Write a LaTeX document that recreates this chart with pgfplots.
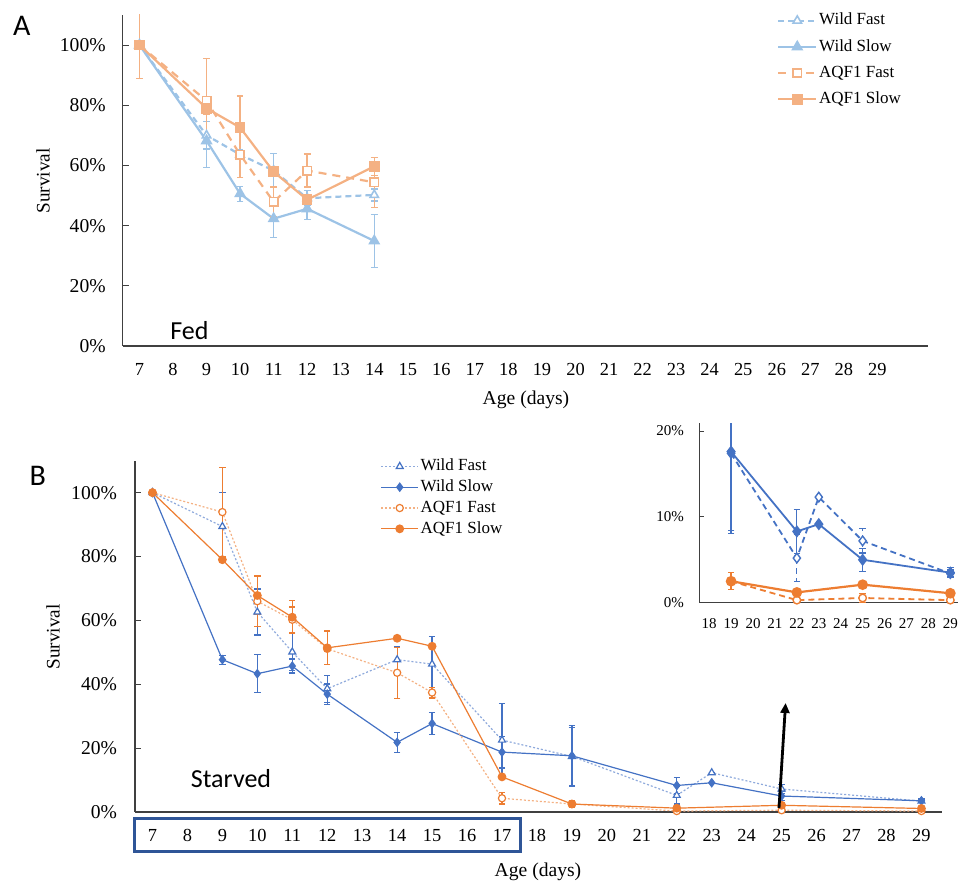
\documentclass[border=0pt]{standalone}
\usepackage{fontspec}
\setmainfont{Liberation Serif}
\newfontfamily\calibri{Carlito}
\usepackage{pgfplots}
\usepackage{pgfplotstable}
\pgfplotsset{compat=1.18}
\usetikzlibrary{arrows.meta}

\definecolor{wildA}{HTML}{9DC3E6}
\definecolor{aqfA}{HTML}{F4B183}
\definecolor{wildB}{HTML}{4472C4}
\definecolor{wildBl}{HTML}{8FAADC}
\definecolor{aqfB}{HTML}{ED7D31}
\definecolor{aqfBl}{HTML}{F4B183}
\definecolor{boxblue}{HTML}{2F5597}
\definecolor{axcol}{HTML}{404040}

% ---------- Panel A (fed) ----------
\pgfplotstableread{
x y e
7 100 0
9 70 4.6
10 63.6 1.5
11 58.3 5.7
12 49.1 2.5
14 50.2 2
}\WFA
\pgfplotstableread{
x y e
7 100 0
9 68.2 8.8
10 50.6 2.5
11 42.3 6.2
12 45.6 3.5
14 34.9 8.8
}\WSA
\pgfplotstableread{
x y e
7 100 0
9 81.5 14
10 63.6 7.6
11 47.9 5
12 58.3 5.5
14 54.4 8.3
}\AFA
\pgfplotstableread{
x y e
7 100 11.1
9 79 2
10 72.6 10.5
11 57.9 1.5
12 48.6 1.5
14 59.7 3
}\ASA

% ---------- Panel B (starved) ----------
\pgfplotstableread{
x y e
7 100 0
9 89.4 10.7
10 62.6 7.2
11 50.1 5.8
12 38.6 4.2
14 47.7 4
15 46.3 8.7
17 22.5 11.5
19 17.4 9
22 5.2 2.7
23 12.3 0
25 7.2 1.4
29 3.4 0.4
}\WFB
\pgfplotstableread{
x y e
7 100 0
9 47.7 1.4
10 43.3 6
11 45.7 2.2
12 36.9 3.2
14 21.8 3.2
15 27.7 3.4
17 18.75 5
19 17.6 9.5
22 8.3 2.6
23 9.15 0
25 5.0 1.35
29 3.5 0.6
}\WSB
\pgfplotstableread{
x y e
7 100 0
9 93.9 14
10 66 8
11 60.2 4
12 51.1 0
14 43.6 8
15 37.4 1.7
17 4.3 1.8
19 2.5 0
22 0.3 0
25 0.55 0.5
29 0.3 0
}\AFB
\pgfplotstableread{
x y e
7 100 0
9 79 0
10 67.8 6
11 61 5.2
12 51.4 5.3
14 54.4 0
15 51.9 0
17 11 0
19 2.5 1.0
22 1.2 0
25 2.1 0
29 1.1 0
}\ASB

\pgfplotsset{
  base/.style={
    scale only axis,
    axis lines=left,
    axis line style={draw=axcol, line width=0.6pt, -},
    tick align=inside,
    xtick style={draw=none},
    ytick style={draw=axcol, line width=0.5pt},
    major tick length=3pt,
    /pgf/number format/assume math mode=true,
    clip=true,
    error bars/y dir=both,
    error bars/y explicit,
  },
}

\begin{document}
\begin{tikzpicture}[x=1pt,y=1pt]
\useasboundingbox (0,0) rectangle (479,441);

% ================= Panel A =================
\begin{axis}[base,
  at={(61.35pt,268pt)}, anchor=south west,
  width=402.5pt, height=165.5pt,
  xmin=6.5, xmax=30.5, ymin=0, ymax=110,
  xtick={7,...,29},
  ytick={0,20,40,60,80,100},
  yticklabels={0\%,20\%,40\%,60\%,80\%,100\%},
  xticklabel style={font=\fontsize{9.2}{10}\selectfont, yshift=-5.2pt},
  yticklabel style={font=\fontsize{9.8}{11}\selectfont, xshift=-5pt},
  error bars/error mark options={rotate=90, mark size=1.7pt, line width=0.7pt},
  legend image code/.code={\draw[mark repeat=2,mark phase=2,#1] plot coordinates {(0pt,0pt) (9.5pt,0pt) (19pt,0pt)};},
  legend style={at={(0.8125,1.014)}, anchor=north west, draw=none, fill=none,
    font=\fontsize{8.5}{10}\selectfont, row sep=3.2pt, inner sep=0pt,
    nodes={inner sep=0.9pt, text height=6.2pt, text depth=1.9pt}},
  legend cell align=left,
]
\addplot[color=wildA, line width=1.1pt, dash pattern=on 3pt off 2pt,
  mark=triangle*, mark size=2.4pt, mark options={solid, fill=white, draw=wildA, line width=0.8pt},
  error bars/error bar style={solid, line width=0.7pt, wildA}]
  table[x=x,y=y,y error=e]{\WFA};
\addlegendentry{Wild Fast}
\addplot[color=wildA, line width=1.1pt,
  mark=triangle*, mark size=2.4pt, mark options={solid, fill=wildA, draw=wildA},
  error bars/error bar style={solid, line width=0.7pt, wildA}]
  table[x=x,y=y,y error=e]{\WSA};
\addlegendentry{Wild Slow}
\addplot[color=aqfA, line width=1.1pt, dash pattern=on 4pt off 3pt,
  mark=square*, mark size=2.1pt, mark options={solid, fill=white, draw=aqfA, line width=0.8pt},
  error bars/error bar style={solid, line width=0.7pt, aqfA}]
  table[x=x,y=y,y error=e]{\AFA};
\addlegendentry{AQF1 Fast}
\addplot[color=aqfA, line width=1.1pt,
  mark=square*, mark size=2.1pt, mark options={solid, fill=aqfA, draw=aqfA},
  error bars/error bar style={solid, line width=0.7pt, aqfA}]
  table[x=x,y=y,y error=e]{\ASA};
\addlegendentry{AQF1 Slow}
\end{axis}

% ================= Panel B =================
\begin{axis}[base,
  at={(67.5pt,35pt)}, anchor=south west,
  width=403.35pt, height=175.65pt,
  xmin=6.5, xmax=29.58, ymin=0, ymax=110,
  xtick={7,...,29},
  ytick={0,20,40,60,80,100},
  yticklabels={0\%,20\%,40\%,60\%,80\%,100\%},
  xticklabel style={font=\fontsize{9.2}{10}\selectfont, yshift=-5.2pt},
  yticklabel style={font=\fontsize{9.8}{11}\selectfont, xshift=-5.5pt},
  error bars/error mark options={rotate=90, mark size=1.6pt, line width=0.6pt},
  legend image code/.code={\draw[mark repeat=2,mark phase=2,#1] plot coordinates {(0pt,0pt) (9.25pt,0pt) (18.5pt,0pt)};},
  legend style={at={(0.304,1.013)}, anchor=north west, draw=none, fill=none,
    font=\fontsize{8.5}{10}\selectfont, row sep=0.5pt, inner sep=0pt,
    nodes={inner sep=0.9pt, text height=6.2pt, text depth=1.9pt}},
  legend cell align=left,
]
\addplot[color=wildBl, line width=0.6pt, dash pattern=on 1pt off 1pt,
  mark=triangle*, mark size=2pt, mark options={solid, fill=white, draw=wildB, line width=0.6pt},
  error bars/error bar style={solid, line width=0.6pt, wildB}]
  table[x=x,y=y,y error=e]{\WFB};
\addlegendentry{Wild Fast}
\addplot[color=wildB, line width=0.6pt,
  mark=diamond*, mark size=2pt, mark options={solid, fill=wildB, draw=wildB},
  error bars/error bar style={solid, line width=0.6pt, wildB}]
  table[x=x,y=y,y error=e]{\WSB};
\addlegendentry{Wild Slow}
\addplot[color=aqfBl, line width=0.6pt, dash pattern=on 1pt off 1pt,
  mark=*, mark size=1.8pt, mark options={solid, fill=white, draw=aqfB, line width=0.6pt},
  error bars/error bar style={solid, line width=0.6pt, aqfB}]
  table[x=x,y=y,y error=e]{\AFB};
\addlegendentry{AQF1 Fast}
\addplot[color=aqfB, line width=0.6pt,
  mark=*, mark size=1.9pt, mark options={solid, fill=aqfB, draw=aqfB},
  error bars/error bar style={solid, line width=0.6pt, aqfB}]
  table[x=x,y=y,y error=e]{\ASB};
\addlegendentry{AQF1 Slow}
\end{axis}

% ================= Inset =================
\begin{axis}[base,
  at={(349.65pt,139.65pt)}, anchor=south west,
  width=129.35pt, height=89.7pt,
  xmin=17.55, xmax=29.35, ymin=0, ymax=20.9,
  xtick={18,...,29},
  ytick={0,10,20},
  yticklabels={0\%,10\%,20\%},
  xticklabel style={font=\fontsize{7.5}{9}\selectfont, yshift=-4.3pt},
  yticklabel style={font=\fontsize{7.5}{9}\selectfont, xshift=-4.2pt},
  major tick length=2.5pt,
  error bars/error mark options={rotate=90, mark size=1.6pt, line width=0.6pt},
  restrict x to domain=18:30,
]
\addplot[color=wildB, line width=0.9pt, dash pattern=on 3pt off 2pt,
  mark=diamond*, mark size=2.4pt, mark options={solid, fill=white, draw=wildB, line width=0.7pt},
  error bars/error bar style={dash pattern=on 3pt off 2pt, line width=0.6pt, wildB}]
  table[x=x,y=y,y error=e]{\WFB};
\addplot[color=wildB, line width=0.9pt,
  mark=diamond*, mark size=2.4pt, mark options={solid, fill=wildB, draw=wildB},
  error bars/error bar style={solid, line width=0.6pt, wildB}]
  table[x=x,y=y,y error=e]{\WSB};
\addplot[color=aqfB, line width=0.9pt, dash pattern=on 3pt off 2pt,
  mark=*, mark size=1.9pt, mark options={solid, fill=white, draw=aqfB, line width=0.7pt},
  error bars/error bar style={solid, line width=0.6pt, aqfB}]
  table[x=x,y=y,y error=e]{\AFB};
\addplot[color=aqfB, line width=1.1pt,
  mark=*, mark size=2.1pt, mark options={solid, fill=aqfB, draw=aqfB},
  error bars/error bar style={solid, line width=0.6pt, aqfB}]
  table[x=x,y=y,y error=e]{\ASB};
\end{axis}

% ================= Annotations =================
\node[font=\calibri\fontsize{15}{18}\selectfont] at (10.85,427.85) {A};
\node[font=\calibri\fontsize{15}{18}\selectfont] at (18.85,203) {B};
\node[rotate=90, font=\fontsize{9.6}{11}\selectfont] at (21.5,350.5) {Survival};
\node[rotate=90, font=\fontsize{9.6}{11}\selectfont] at (26.5,122.5) {Survival};
\node[font=\fontsize{9.8}{11}\selectfont] at (263,241) {Age (days)};
\node[font=\fontsize{9.8}{11}\selectfont] at (269,5.2) {Age (days)};
\node[font=\calibri\fontsize{13}{15}\selectfont] at (94.75,275.5) {Fed};
\node[font=\calibri\fontsize{13}{15}\selectfont] at (115.5,51.5) {Starved};
\draw[boxblue, line width=1.5pt] (67.15,15.15) rectangle (260.35,31.9);
\draw[black, line width=1.4pt, -{Triangle[length=5pt,width=4.5pt]}] (389.5,37) -- (392.8,89.5);
\end{tikzpicture}
\end{document}
